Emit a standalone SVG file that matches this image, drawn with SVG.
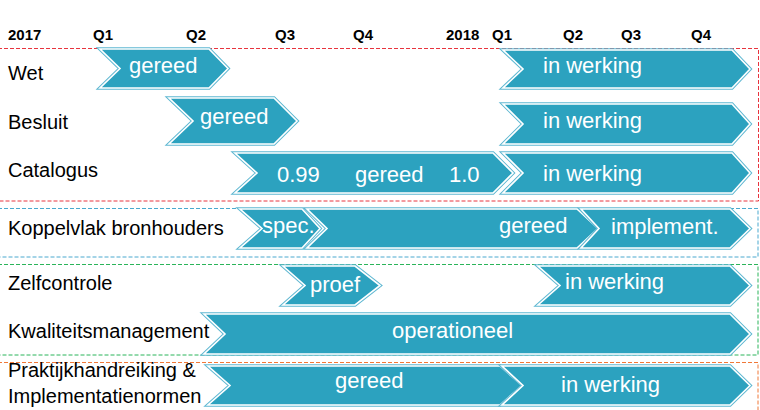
<svg xmlns="http://www.w3.org/2000/svg" width="760" height="410" viewBox="0 0 760 410">
<style>
.hdr{font-family:"Liberation Sans",Arial,sans-serif;font-weight:bold;font-size:15px;fill:#000}
.lbl{font-family:"Liberation Sans",Arial,sans-serif;font-size:20px;fill:#000}
.ct{font-family:"Liberation Sans",Arial,sans-serif;font-size:22px;fill:#fff}
.o{fill:none;stroke:#5fb8d2;stroke-width:3.6;stroke-linejoin:miter}
.f{fill:#2ca2bf;stroke:#fff;stroke-width:1.6;stroke-linejoin:miter}
.box{fill:none;stroke-width:1;stroke-dasharray:4 2}
</style>
<rect width="760" height="410" fill="#fff"/>
<g id="frames">
<rect class="box" x="-2" y="48.5" width="760.5" height="152.5" stroke="#e8343e"/>
<rect class="box" x="-2" y="208.5" width="760" height="48.5" stroke="#4aa9cf"/>
<rect class="box" x="-2" y="264.5" width="760" height="90.5" stroke="#2bb45a"/>
<rect class="box" x="-2" y="362.5" width="760" height="60" stroke="#f07838"/>
</g>
<g id="timeline">
<text class="hdr" x="8" y="40">2017</text>
<text class="hdr" x="93" y="40">Q1</text>
<text class="hdr" x="186" y="40">Q2</text>
<text class="hdr" x="275" y="40">Q3</text>
<text class="hdr" x="353" y="40">Q4</text>
<text class="hdr" x="446" y="40">2018</text>
<text class="hdr" x="492" y="40">Q1</text>
<text class="hdr" x="563" y="40">Q2</text>
<text class="hdr" x="621" y="40">Q3</text>
<text class="hdr" x="691" y="40">Q4</text>
</g>
<g id="labels">
<text class="lbl" x="8" y="80">Wet</text>
<text class="lbl" x="8" y="129">Besluit</text>
<text class="lbl" x="8" y="177">Catalogus</text>
<text class="lbl" x="8" y="235">Koppelvlak bronhouders</text>
<text class="lbl" x="8" y="290">Zelfcontrole</text>
<text class="lbl" x="8" y="338">Kwaliteitsmanagement</text>
<text class="lbl" x="8" y="377">Praktijkhandreiking &amp;</text>
<text class="lbl" x="8" y="403">Implementatienormen</text>
</g>
<g id="connectors"/>
<g id="wet-gereed">
<polygon class="o" points="100,49 209,49 228,68.5 209,88 100,88 120,68.5"/>
<polygon class="f" points="100,49 209,49 228,68.5 209,88 100,88 120,68.5"/>
<text class="ct" x="129" y="73">gereed</text>
</g>
<g id="wet-inwerking">
<polygon class="o" points="503,50 732,50 750,69 732,88 503,88 523,69"/>
<polygon class="f" points="503,50 732,50 750,69 732,88 503,88 523,69"/>
<text class="ct" x="543" y="73">in werking</text>
</g>
<g id="besluit-gereed">
<polygon class="o" points="169,98 274,98 297,121 274,144 169,144 193,121"/>
<polygon class="f" points="169,98 274,98 297,121 274,144 169,144 193,121"/>
<text class="ct" x="200" y="124">gereed</text>
</g>
<g id="besluit-inwerking">
<polygon class="o" points="503,104 732,104 750,124 732,144 503,144 523,124"/>
<polygon class="f" points="503,104 732,104 750,124 732,144 503,144 523,124"/>
<text class="ct" x="543" y="128">in werking</text>
</g>
<g id="catalogus-gereed">
<polygon class="o" points="235,153 493,153 513,173 493,193 235,193 257,173"/>
<polygon class="f" points="235,153 493,153 513,173 493,193 235,193 257,173"/>
<text class="ct" x="277" y="182">0.99</text>
<text class="ct" x="355" y="182">gereed</text>
<text class="ct" x="449" y="182">1.0</text>
</g>
<g id="catalogus-inwerking">
<polygon class="o" points="503,153 732,153 750,173 732,193 503,193 523,173"/>
<polygon class="f" points="503,153 732,153 750,173 732,193 503,193 523,173"/>
<text class="ct" x="543" y="181">in werking</text>
</g>
<g id="koppelvlak-spec">
<polygon class="o" points="240,209 302,209 320,228.5 302,248 240,248 262,228.5"/>
<polygon class="f" points="240,209 302,209 320,228.5 302,248 240,248 262,228.5"/>
<text class="ct" x="262" y="233">spec.</text>
</g>
<g id="koppelvlak-gereed">
<polygon class="o" points="307,209 577,209 598,228.5 577,248 307,248 327,228.5"/>
<polygon class="f" points="307,209 577,209 598,228.5 577,248 307,248 327,228.5"/>
<text class="ct" x="499" y="233">gereed</text>
</g>
<g id="koppelvlak-implement">
<polygon class="o" points="581,209 730,209 750,228.5 730,248 581,248 599,228.5"/>
<polygon class="f" points="581,209 730,209 750,228.5 730,248 581,248 599,228.5"/>
<text class="ct" x="611" y="234">implement.</text>
</g>
<g id="zelfcontrole-proef">
<polygon class="o" points="283,266 355,266 380,285.5 355,305 283,305 305,285.5"/>
<polygon class="f" points="283,266 355,266 380,285.5 355,305 283,305 305,285.5"/>
<text class="ct" x="310" y="292">proef</text>
</g>
<g id="zelfcontrole-inwerking">
<polygon class="o" points="538,266 730,266 750,285.5 730,305 538,305 560,285.5"/>
<polygon class="f" points="538,266 730,266 750,285.5 730,305 538,305 560,285.5"/>
<text class="ct" x="565" y="289">in werking</text>
</g>
<g id="kwaliteit-operationeel">
<polygon class="o" points="204,314 730,314 750,334 730,354 204,354 225,334"/>
<polygon class="f" points="204,314 730,314 750,334 730,354 204,354 225,334"/>
<text class="ct" x="392" y="338">operationeel</text>
</g>
<g id="praktijk-gereed">
<polygon class="o" points="208,366 500,366 522,385.5 500,405 208,405 230,385.5"/>
<polygon class="f" points="208,366 500,366 522,385.5 500,405 208,405 230,385.5"/>
<text class="ct" x="335" y="388">gereed</text>
</g>
<g id="praktijk-inwerking">
<polygon class="o" points="502,366 730,366 750,385.5 730,405 502,405 523,385.5"/>
<polygon class="f" points="502,366 730,366 750,385.5 730,405 502,405 523,385.5"/>
<text class="ct" x="561" y="392">in werking</text>
</g>
</svg>
